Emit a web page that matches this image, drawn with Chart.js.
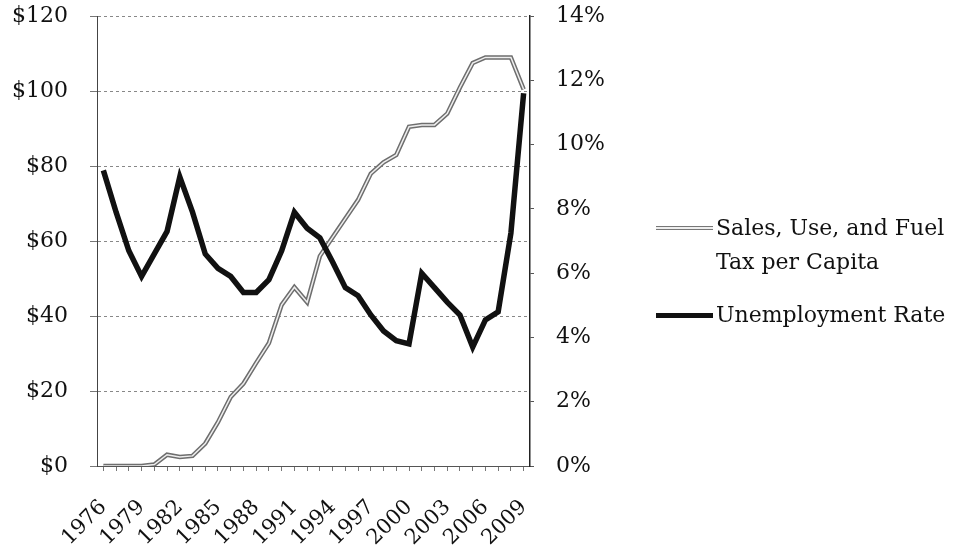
<!DOCTYPE html>
<html>
<head>
<meta charset="utf-8">
<script src="https://cdn.jsdelivr.net/npm/chart.js@4.4.1/dist/chart.umd.min.js"></script>
<style>
  html, body { margin: 0; padding: 0; background: #fff; overflow: hidden; }
  #wrap { position: relative; width: 965px; height: 556px; overflow: hidden; }
  #chart { position: absolute; left: 0; top: -19px; }
  .legend { position: absolute; left: 656px; font-family: "DejaVu Serif", serif; font-size: 22px; color: #111; line-height: 34px; }
  .legend .item { position: relative; padding-left: 60px; }
  .legend .swatch { position: absolute; left: 0; top: 15px; width: 57px; }
  .swatch.tax { height: 4px; background: #777; }
  .swatch.tax::after { content: ""; position: absolute; left: 0; right: 0; top: 1.3px; height: 1.5px; background: #eee; }
  .swatch.unemp { height: 5px; background: #111; }
</style>
</head>
<body>
<div id="wrap">
  <canvas id="chart" width="965" height="575"></canvas>
  <div class="legend" style="top:211px">
    <div class="item"><span class="swatch tax"></span>Sales, Use, and Fuel<br>Tax per Capita</div>
  </div>
  <div class="legend" style="top:298px">
    <div class="item"><span class="swatch unemp"></span>Unemployment Rate</div>
  </div>
</div>
<script>
// Data
const years = [1976, 1977, 1978, 1979, 1980, 1981, 1982, 1983, 1984, 1985, 1986, 1987,
  1988, 1989, 1990, 1991, 1992, 1993, 1994, 1995, 1996, 1997, 1998, 1999, 2000, 2001,
  2002, 2003, 2004, 2005, 2006, 2007, 2008, 2009];

// dollars per capita (left axis)
const taxPerCapita = [0, 0, 0, 0, 0.4, 3, 2.4, 2.7, 6, 11.7, 18.4, 22, 27.5, 32.8, 43,
  47.7, 43.7, 56, 61, 66, 71, 78, 81, 83, 90.5, 91, 91, 94, 101, 107.5, 109, 109, 109, 100.5];

// percent (right axis)
const unemploymentRate = [9.2, 7.9, 6.7, 5.9, 6.6, 7.3, 9.0, 7.9, 6.6, 6.15, 5.9, 5.4,
  5.4, 5.8, 6.7, 7.9, 7.4, 7.1, 6.35, 5.55, 5.3, 4.7, 4.2, 3.9, 3.8, 6.0, 5.55, 5.1,
  4.7, 3.7, 4.55, 4.8, 7.25, 11.6];

const dollarTicks = [0, 20, 40, 60, 80, 100, 120];
const percentTicks = [0, 2, 4, 6, 8, 10, 12, 14];

const axisFont = { family: "DejaVu Serif", size: 22 };
const textColor = "#111";

const ctx = document.getElementById("chart").getContext("2d");
new Chart(ctx, {
  type: "line",
  data: {
    labels: years.map(String),
    datasets: [
      {
        label: "Unemployment Rate",
        data: unemploymentRate,
        yAxisID: "yRight",
        borderColor: "#111",
        borderWidth: 5.5,
        pointRadius: 0,
        tension: 0,
        order: 0
      },
      {
        // light core of the grey double line
        label: "tax-core",
        data: taxPerCapita,
        yAxisID: "yLeft",
        borderColor: "#eeeeee",
        borderWidth: 1.5,
        pointRadius: 0,
        tension: 0,
        order: 1
      },
      {
        label: "Sales, Use, and Fuel Tax per Capita",
        data: taxPerCapita,
        yAxisID: "yLeft",
        borderColor: "#6e6e6e",
        borderWidth: 4.5,
        pointRadius: 0,
        tension: 0,
        order: 2
      }
    ]
  },
  options: {
    responsive: false,
    animation: false,
    layout: { padding: 0 },
    plugins: { legend: { display: false }, tooltip: { enabled: false } },
    scales: {
      x: {
        offset: true,
        grid: { display: true, drawOnChartArea: false, tickLength: 5, color: "#777" },
        border: { color: "#555", dash: [2, 3] },
        ticks: {
          autoSkip: false,
          maxRotation: 45,
          minRotation: 45,
          padding: 24,
          color: textColor,
          font: { family: "DejaVu Serif", size: 21 },
          callback: function (val, i) { return i % 3 === 0 ? years[i] : ""; }
        },
        afterFit: s => { s.height = 90; }
      },
      yLeft: {
        position: "left",
        min: 0,
        max: 120,
        afterBuildTicks: s => { s.ticks = dollarTicks.map(v => ({ value: v })); },
        grid: { color: "#888", lineWidth: 1, tickLength: 7, tickColor: "#777" },
        border: { color: "#444", dash: [3, 3] },
        ticks: {
          padding: 22,
          color: textColor,
          font: axisFont,
          callback: v => "$" + v
        },
        afterFit: s => { s.width = 97; }
      },
      yRight: {
        position: "right",
        min: 0,
        max: 14,
        afterBuildTicks: s => { s.ticks = percentTicks.map(v => ({ value: v })); },
        grid: { drawOnChartArea: false, tickLength: 4, color: "#555" },
        border: { color: "#222", width: 1.5 },
        ticks: {
          padding: 22,
          color: textColor,
          font: axisFont,
          callback: v => v + "%"
        },
        afterFit: s => { s.width = 965 - 530; }
      }
    }
  }
});
</script>
</body>
</html>
